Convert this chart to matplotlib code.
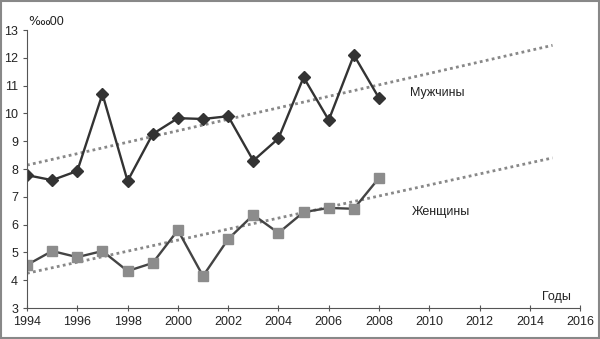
import matplotlib
matplotlib.use("Agg")
import matplotlib.pyplot as plt
from matplotlib.patches import Rectangle

plt.rcParams["font.family"] = ["Liberation Sans", "DejaVu Sans"]

years = list(range(1994, 2009))
men = [7.78, 7.6, 7.93, 10.7, 7.57, 9.26, 9.83, 9.8, 9.9, 8.3, 9.1, 11.3, 9.76, 12.1, 10.55]
women = [4.55, 5.05, 4.83, 5.05, 4.33, 4.62, 5.8, 4.15, 5.48, 6.35, 5.7, 6.45, 6.6, 6.57, 7.68]
# trend lines as drawn in the source (start / end values)
trend_x = [1994, 2014.9]
men_trend = [8.14, 12.45]
women_trend = [4.25, 8.4]
xticks = list(range(1994, 2017, 2))
yticks = list(range(3, 14))

fig = plt.figure(figsize=(6, 3.39), dpi=100)
ax = fig.add_axes([0.045, 0.0914, 0.922, 0.82])
fig.patches.append(Rectangle((0.002, 0.003), 0.996, 0.994, transform=fig.transFigure,
                             fill=False, edgecolor="#888888", linewidth=1.5))

ax.plot(trend_x, men_trend, linestyle=(0, (1, 1.2)), color="#888888", lw=2)
ax.plot(trend_x, women_trend, linestyle=(0, (1, 1.2)), color="#888888", lw=2)

ax.plot(years, men, "-D", color="#333333", lw=1.7, ms=6.5, mfc="#333333", mec="#333333")
ax.plot(years, women, "-s", color="#444444", lw=1.7, ms=7.5, mfc="#8c8c8c", mec="#8c8c8c")

ax.text(2009.24, 10.73, "Мужчины", fontsize=9, color="#222222", va="center")
ax.text(2009.3, 6.45, "Женщины", fontsize=9, color="#222222", va="center")
ax.text(2014.5, 3.4, "Годы", fontsize=9, color="#222222", va="center")
ax.text(1994.05, 13.28, "‱00", fontsize=9, color="#222222", va="center")

ax.set_xlim(1994, 2016)
ax.set_ylim(3, 13)
ax.set_xticks(xticks)
ax.set_yticks(yticks)
for s in ("top", "right"):
    ax.spines[s].set_visible(False)
for s in ("left", "bottom"):
    ax.spines[s].set_color("#555555")
ax.tick_params(axis="x", direction="inout", length=5, colors="#555555", labelcolor="#222222", labelsize=9)
ax.tick_params(axis="y", direction="out", length=3, colors="#555555", labelcolor="#222222", labelsize=9)

fig.savefig("out.png", dpi=100)
